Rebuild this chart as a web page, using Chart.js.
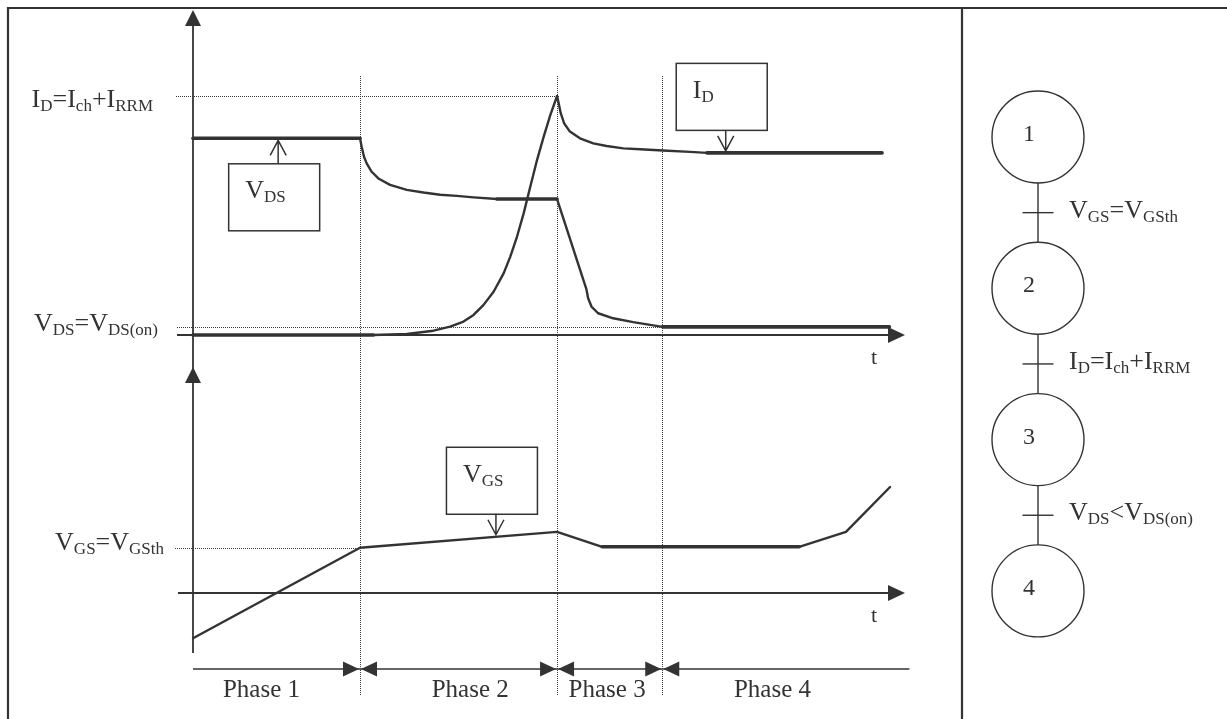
<!DOCTYPE html>
<html>
<head>
<meta charset="utf-8">
<script src="https://cdn.jsdelivr.net/npm/chart.js@4.4.1/dist/chart.umd.min.js"></script>
<style>
  html, body { margin: 0; padding: 0; background: #fff; }
  #wrap { width: 1227px; height: 719px; }
</style>
</head>
<body>
<div id="wrap"><canvas id="timing" width="1227" height="719"></canvas></div>
<script>
// time in arbitrary units, phase 1 ends at t = 100
const phaseNames = ['Phase 1', 'Phase 2', 'Phase 3', 'Phase 4'];
const phaseEnds = [100, 218, 281];
const phaseLabelAt = [41, 166, 248, 347];

// drain current, normalised so that I_D = I_ch + I_RRM is 1
const idTime = [0, 108, 128, 144, 154, 162, 168, 174, 180, 186, 190, 194, 198, 202, 206, 210, 214, 218,
  219, 220.2, 222.2, 225.7, 231.7, 239.7, 247.7, 257.7, 267.7, 281.4, 297.6, 307.8, 412.6];
const idValues = [0, 0, 0.004, 0.018, 0.035, 0.056, 0.084, 0.126, 0.181, 0.258, 0.328, 0.411, 0.509, 0.621, 0.732, 0.83, 0.921, 1.0,
  0.969, 0.928, 0.886, 0.851, 0.823, 0.802, 0.791, 0.781, 0.777, 0.772, 0.766, 0.762, 0.762];

// drain-source voltage, same scale
const vdsTime = [0, 100, 101, 102.4, 104, 107, 111, 118, 128, 138, 148, 158, 168, 182, 218,
  235.6, 236.6, 238.6, 242.6, 251.6, 263.6, 281.2, 417];
const vdsValues = [0.823, 0.823, 0.788, 0.746, 0.718, 0.683, 0.655, 0.628, 0.607, 0.596, 0.587, 0.582, 0.576, 0.569, 0.569,
  0.191, 0.154, 0.119, 0.091, 0.07, 0.054, 0.034, 0.034];

// gate-source voltage, normalised so that V_GSth is 1
const vgsTime = [0, 100, 218, 245, 363, 391, 417.4];
const vgsValues = [-1.0, 1.0, 1.35, 1.02, 1.02, 1.35, 2.34];

const idPeak = 1.0;
const vdsOn = 0.034;
const vgsTh = 1.0;

// rich text: [text, isSubscript]
const idPeakLabel = [['I', 0], ['D', 1], ['=I', 0], ['ch', 1], ['+I', 0], ['RRM', 1]];
const vdsOnLabel = [['V', 0], ['DS', 1], ['=V', 0], ['DS(on)', 1]];
const vgsThLabel = [['V', 0], ['GS', 1], ['=V', 0], ['GSth', 1]];

const stateNames = ['1', '2', '3', '4'];
const transitionLabels = [
  vgsThLabel,
  idPeakLabel,
  [['V', 0], ['DS', 1], ['<V', 0], ['DS(on)', 1]]
];

// callouts: label, series, time of the arrow, box above or below the curve
const callouts = [
  { label: [['V', 0], ['DS', 1]], series: 'vds', t: 51, side: 'below' },
  { label: [['I', 0], ['D', 1]], series: 'id', t: 319, side: 'above' },
  { label: [['V', 0], ['GS', 1]], series: 'vgs', t: 181.4, side: 'above' }
];

// ---- layout ----
const W = 1227, H = 719;
const AXIS_X = 193, PX_PER_T = 1.67;
const TOP_ZERO = 335, TOP_UNIT = 239;
const BOT_ZERO = 593, BOT_UNIT = 45.3;
const INK = '#333';
const MAIN_FONT = '26px "Liberation Serif", "Times New Roman", serif';
const SUB_FONT = '17px "Liberation Serif", "Times New Roman", serif';
const SUB_DROP = 4;

const pts = (ts, vs) => ts.map((t, i) => ({ x: t, y: vs[i] }));
const seriesMap = {
  id: [idTime, idValues, 'yTop'],
  vds: [vdsTime, vdsValues, 'yTop'],
  vgs: [vgsTime, vgsValues, 'yBot']
};

function valueAt(key, t) {
  const [ts, vs] = seriesMap[key];
  for (let i = 0; i < ts.length - 1; i++) {
    if (t >= ts[i] && t <= ts[i + 1]) {
      const f = (t - ts[i]) / (ts[i + 1] - ts[i]);
      return vs[i] + f * (vs[i + 1] - vs[i]);
    }
  }
  return vs[vs.length - 1];
}

function line(ctx, x1, y1, x2, y2, w, dash) {
  ctx.save();
  ctx.strokeStyle = dash ? '#3c3c3c' : INK;
  ctx.lineWidth = w;
  if (dash) ctx.setLineDash(dash);
  ctx.beginPath();
  ctx.moveTo(x1, y1);
  ctx.lineTo(x2, y2);
  ctx.stroke();
  ctx.restore();
}

// filled arrow head, dir = 'up' | 'right' | 'left'
function head(ctx, x, y, dir, len, half) {
  ctx.save();
  ctx.fillStyle = INK;
  ctx.beginPath();
  ctx.moveTo(x, y);
  if (dir === 'up') { ctx.lineTo(x - half, y + len); ctx.lineTo(x + half, y + len); }
  if (dir === 'right') { ctx.lineTo(x - len, y - half); ctx.lineTo(x - len, y + half); }
  if (dir === 'left') { ctx.lineTo(x + len, y - half); ctx.lineTo(x + len, y + half); }
  ctx.closePath();
  ctx.fill();
  ctx.restore();
}

function richWidth(ctx, parts) {
  let w = 0;
  for (const [s, sub] of parts) {
    ctx.font = sub ? SUB_FONT : MAIN_FONT;
    w += ctx.measureText(s).width;
  }
  return w;
}

function drawRich(ctx, parts, x, y, align) {
  ctx.save();
  if (align === 'right') x -= richWidth(ctx, parts);
  ctx.fillStyle = INK;
  ctx.textAlign = 'left';
  ctx.textBaseline = 'alphabetic';
  for (const [s, sub] of parts) {
    ctx.font = sub ? SUB_FONT : MAIN_FONT;
    ctx.fillText(s, x, sub ? y + SUB_DROP : y);
    x += ctx.measureText(s).width;
  }
  ctx.restore();
}

function plainText(ctx, s, x, y, size) {
  ctx.save();
  ctx.fillStyle = INK;
  ctx.font = size + 'px "Liberation Serif", "Times New Roman", serif';
  ctx.textAlign = 'center';
  ctx.textBaseline = 'alphabetic';
  ctx.fillText(s, x, y);
  ctx.restore();
}

const diagram = {
  id: 'diagram',
  beforeDatasetsDraw(chart) {
    const ctx = chart.ctx;
    const x = chart.scales.x, yt = chart.scales.yTop, yb = chart.scales.yBot;
    const ax = x.getPixelForValue(0);

    // frame and divider
    line(ctx, 7, 8, W, 8, 2.2);
    line(ctx, 8, 7, 8, H, 2.2);
    line(ctx, 962, 7, 962, H, 2.2);

    // phase boundaries
    phaseEnds.forEach(t => {
      const px = Math.round(x.getPixelForValue(t)) + 0.5;
      line(ctx, px, 76, px, 695, 1, [1, 1]);
    });

    // reference levels
    const yPeak = Math.round(yt.getPixelForValue(idPeak)) + 0.5;
    line(ctx, ax - 17, yPeak, x.getPixelForValue(phaseEnds[1]) + 3, yPeak, 1, [1, 1]);
    const yOn = Math.round(yt.getPixelForValue(vdsOn)) + 0.5;
    line(ctx, ax - 16, yOn, x.getPixelForValue(phaseEnds[2]), yOn, 1, [1, 1]);
    const yTh = Math.round(yb.getPixelForValue(vgsTh)) + 0.5;
    line(ctx, ax - 18, yTh, x.getPixelForValue(phaseEnds[0]), yTh, 1, [1, 1]);

    // axes
    line(ctx, ax, 20, ax, 653, 1.8);
    head(ctx, ax, 10, 'up', 16, 8);
    head(ctx, ax, 367, 'up', 16, 8);
    const y0 = yt.getPixelForValue(0), g0 = yb.getPixelForValue(0);
    line(ctx, ax - 16, y0, 892, y0, 1.8);
    head(ctx, 905, y0, 'right', 17, 8);
    line(ctx, ax - 15, g0, 892, g0, 1.8);
    head(ctx, 905, g0, 'right', 17, 8);
    plainText(ctx, 't', 874, y0 + 29, 22);
    plainText(ctx, 't', 874, g0 + 29, 22);

    // level labels
    drawRich(ctx, idPeakLabel, 153, yPeak + 10, 'right');
    drawRich(ctx, vdsOnLabel, 158, yOn + 3, 'right');
    drawRich(ctx, vgsThLabel, 164, yTh + 1, 'right');
  },
  afterDatasetsDraw(chart) {
    const ctx = chart.ctx;
    const x = chart.scales.x;

    // callout boxes
    callouts.forEach(c => {
      const [, , axis] = seriesMap[c.series];
      const tx = x.getPixelForValue(c.t);
      const cy = chart.scales[axis].getPixelForValue(valueAt(c.series, c.t));
      const below = c.side === 'below';
      const tip = below ? cy + 2 : cy - 2;
      const top = below ? tip + 23 : tip - 21 - 67;
      const left = tx - 50;
      ctx.save();
      ctx.strokeStyle = INK;
      ctx.lineWidth = 1.5;
      ctx.strokeRect(left + 0.5, top + 0.5, 91, 67);
      ctx.beginPath();
      ctx.moveTo(tx, below ? top : top + 67);
      ctx.lineTo(tx, tip);
      ctx.moveTo(tx - 8, below ? tip + 15 : tip - 15);
      ctx.lineTo(tx, tip);
      ctx.lineTo(tx + 8, below ? tip + 15 : tip - 15);
      ctx.stroke();
      ctx.restore();
      drawRich(ctx, c.label, left + 17, top + 35, 'left');
    });

    // phase arrows
    const bounds = [0, ...phaseEnds, 429];
    const ry = 669;
    phaseNames.forEach((name, i) => {
      const x1 = x.getPixelForValue(bounds[i]);
      const x2 = x.getPixelForValue(bounds[i + 1]);
      line(ctx, x1, ry, x2, ry, 1.5);
      if (i > 0) head(ctx, x1 + 1, ry, 'left', 16, 7.5);
      if (i < phaseNames.length - 1) head(ctx, x2 - 1, ry, 'right', 16, 7.5);
      plainText(ctx, name, x.getPixelForValue(phaseLabelAt[i]), 697, 25);
    });

    // state diagram
    const cx = 1038, r = 46, cy0 = 137, step = 151.3;
    ctx.save();
    ctx.strokeStyle = INK;
    ctx.lineWidth = 1.4;
    stateNames.forEach((s, i) => {
      const cy = cy0 + i * step;
      ctx.beginPath();
      ctx.arc(cx, cy, r, 0, Math.PI * 2);
      ctx.stroke();
      plainText(ctx, s, cx - 9, cy + 4, 24);
    });
    transitionLabels.forEach((lab, i) => {
      const a = cy0 + i * step + r, b = cy0 + (i + 1) * step - r;
      const m = (a + b) / 2;
      line(ctx, cx, a, cx, b, 1.4);
      line(ctx, cx - 15.5, m, cx + 15.5, m, 1.4);
      drawRich(ctx, lab, 1069, m + 5, 'left');
    });
    ctx.restore();
  }
};

const common = {
  borderColor: INK,
  borderWidth: 2.4,
  pointRadius: 0,
  tension: 0,
  fill: false,
  borderJoinStyle: 'round',
  borderCapStyle: 'round',
  segment: {
    borderWidth: c => Math.abs(c.p0.parsed.y - c.p1.parsed.y) < 1e-9 ? 3.6 : 2.4
  }
};

new Chart(document.getElementById('timing'), {
  type: 'line',
  data: {
    datasets: [
      Object.assign({ label: 'I_D', data: pts(idTime, idValues), yAxisID: 'yTop' }, common),
      Object.assign({ label: 'V_DS', data: pts(vdsTime, vdsValues), yAxisID: 'yTop' }, common),
      Object.assign({ label: 'V_GS', data: pts(vgsTime, vgsValues), yAxisID: 'yBot' }, common)
    ]
  },
  options: {
    responsive: false,
    animation: false,
    events: [],
    layout: { padding: 0 },
    plugins: { legend: { display: false }, tooltip: { enabled: false } },
    scales: {
      x: { type: 'linear', display: false, min: -AXIS_X / PX_PER_T, max: (W - AXIS_X) / PX_PER_T },
      yTop: { type: 'linear', display: false, min: -(H - TOP_ZERO) / TOP_UNIT, max: TOP_ZERO / TOP_UNIT },
      yBot: { type: 'linear', display: false, min: -(H - BOT_ZERO) / BOT_UNIT, max: BOT_ZERO / BOT_UNIT }
    }
  },
  plugins: [diagram]
});
</script>
</body>
</html>
